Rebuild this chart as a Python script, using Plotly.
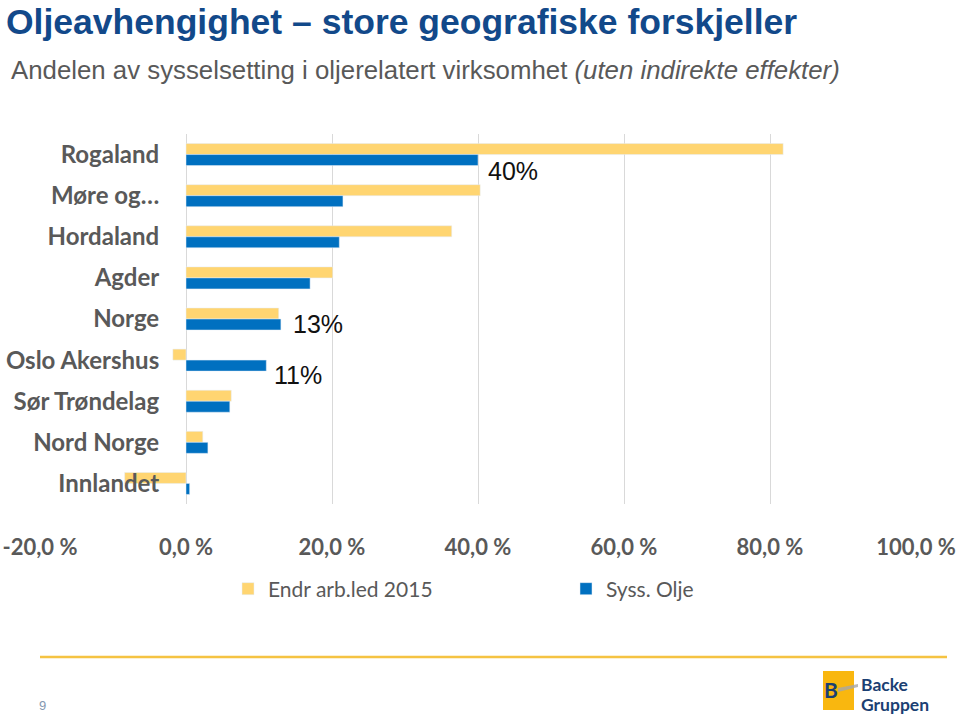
import plotly.graph_objects as go

categories = ["Rogaland", "Møre og…", "Hordaland", "Agder", "Norge",
              "Oslo Akershus", "Sør Trøndelag", "Nord Norge", "Innlandet"]
endr_arbled_2015 = [81.8, 40.3, 36.4, 20.1, 12.7, -1.8, 6.2, 2.3, -8.4]
syss_olje = [40.0, 21.5, 21.0, 17.0, 13.0, 11.0, 6.0, 3.0, 0.5]
tick_vals = [-20, 0, 20, 40, 60, 80, 100]
tick_text = ["-20,0 %", "0,0 %", "20,0 %", "40,0 %", "60,0 %", "80,0 %", "100,0 %"]
labelled = {"Rogaland": (8, -16), "Norge": (10, -5), "Oslo Akershus": (6, -15)}

YELLOW = "#FFD571"
BLUE = "#0070C0"
GRAY = "#595959"

L, R, T, B = 40, 44, 134, 212
W, H = 960, 716

fig = go.Figure()
fig.add_trace(go.Bar(y=categories, x=endr_arbled_2015, orientation="h",
                     name="Endr arb.led 2015", marker_color=YELLOW))
fig.add_trace(go.Bar(y=categories, x=syss_olje, orientation="h",
                     name="Syss. Olje", marker_color=BLUE))


def px_x(px):
    return (px - L) / (W - L - R)


def px_y(py):
    return (H - B - py) / (H - T - B)


annotations = []
for cat, v in zip(categories, syss_olje):
    if cat in labelled:
        xs, ys = labelled[cat]
        annotations.append(dict(x=v, y=cat, xref="x", yref="y", text=f"{v:.0f}%",
                                showarrow=False, xanchor="left", yanchor="middle",
                                xshift=xs, yshift=ys,
                                font=dict(family="Liberation Sans, Arial", size=25, color="#111111")))

annotations.append(dict(x=px_x(5), y=px_y(1), xref="paper", yref="paper", xanchor="left", yanchor="top",
                        text="<b>Oljeavhengighet – store geografiske forskjeller</b>", showarrow=False,
                        borderpad=0,
                        font=dict(family="Liberation Sans, Arial", size=35.5, color="#12498A")))
annotations.append(dict(x=px_x(9), y=px_y(70), xref="paper", yref="paper", xanchor="left", yanchor="middle",
                        text="Andelen av sysselsetting i oljerelatert virksomhet <i>(uten indirekte effekter)</i>",
                        showarrow=False,
                        font=dict(family="Liberation Sans, Arial", size=25.8, color=GRAY)))
annotations.append(dict(x=px_x(42), y=px_y(705), xref="paper", yref="paper", xanchor="center", yanchor="middle",
                        text="9", showarrow=False,
                        font=dict(family="Liberation Sans, Arial", size=13, color="#8497B0")))
annotations.append(dict(x=px_x(860), y=px_y(684), xref="paper", yref="paper", xanchor="left", yanchor="middle",
                        text="<b>Backe</b>", showarrow=False, borderpad=0,
                        font=dict(family="Lato", size=17.5, color="#1B3F73")))
annotations.append(dict(x=px_x(860), y=px_y(704), xref="paper", yref="paper", xanchor="left", yanchor="middle",
                        text="<b>Gruppen</b>", showarrow=False, borderpad=0,
                        font=dict(family="Lato", size=17.5, color="#1B3F73")))
annotations.append(dict(x=px_x(831), y=px_y(689), xref="paper", yref="paper", xanchor="center", yanchor="middle",
                        text="<b>B</b>", showarrow=False,
                        font=dict(family="Lato", size=21, color="#1B3F73")))

shapes = [
    dict(type="line", xref="paper", yref="paper", x0=px_x(40), x1=px_x(947), y0=px_y(657), y1=px_y(657),
         line=dict(color="#F5C342", width=2.5)),
    dict(type="rect", xref="paper", yref="paper", x0=px_x(823), x1=px_x(854), y0=px_y(671), y1=px_y(710),
         fillcolor="#F9B70F", line=dict(width=0), layer="below"),
    dict(type="path", xref="paper", yref="paper",
         path=f"M {px_x(838)},{px_y(688)} L {px_x(858)},{px_y(684)} L {px_x(858)},{px_y(687)} L {px_x(838)},{px_y(692)} Z",
         fillcolor="#A6A6A6", line=dict(width=0), opacity=0.8),
]

n = len(categories)
fig.update_layout(
    width=W, height=H,
    margin=dict(l=L, r=R, t=T, b=B, autoexpand=False),
    paper_bgcolor="white", plot_bgcolor="white",
    barmode="group", bargap=0.465, bargroupgap=0,
    showlegend=True,
    legend=dict(orientation="h", x=px_x(228), xanchor="left", y=px_y(589), yanchor="middle",
                font=dict(family="Lato", size=21, color=GRAY),
                entrywidth=293, entrywidthmode="pixels", itemwidth=30,
                traceorder="normal", bgcolor="rgba(0,0,0,0)"),
    xaxis=dict(range=[-20, 100], tickvals=tick_vals, ticktext=tick_text,
               showgrid=True, gridcolor="#D9D9D9", gridwidth=1, zeroline=False,
               showline=False, ticks="outside", ticklen=24, tickcolor="rgba(0,0,0,0)",
               tickfont=dict(family="Lato", size=22, color=GRAY, weight="bold"),
               fixedrange=True),
    yaxis=dict(range=[n - 0.5, -0.5], autorange=False, anchor="free", position=px_x(186),
               domain=[0, 1],
               showgrid=False, zeroline=False, showline=False,
               ticks="outside", ticklen=22, tickcolor="rgba(0,0,0,0)",
               tickfont=dict(family="Lato", size=24, color=GRAY, weight="bold")),
    annotations=annotations, shapes=shapes,
)

fig.write_html("out.html", config={"displayModeBar": False},
               post_script="document.body.style.margin='0';document.body.style.padding='0';")
